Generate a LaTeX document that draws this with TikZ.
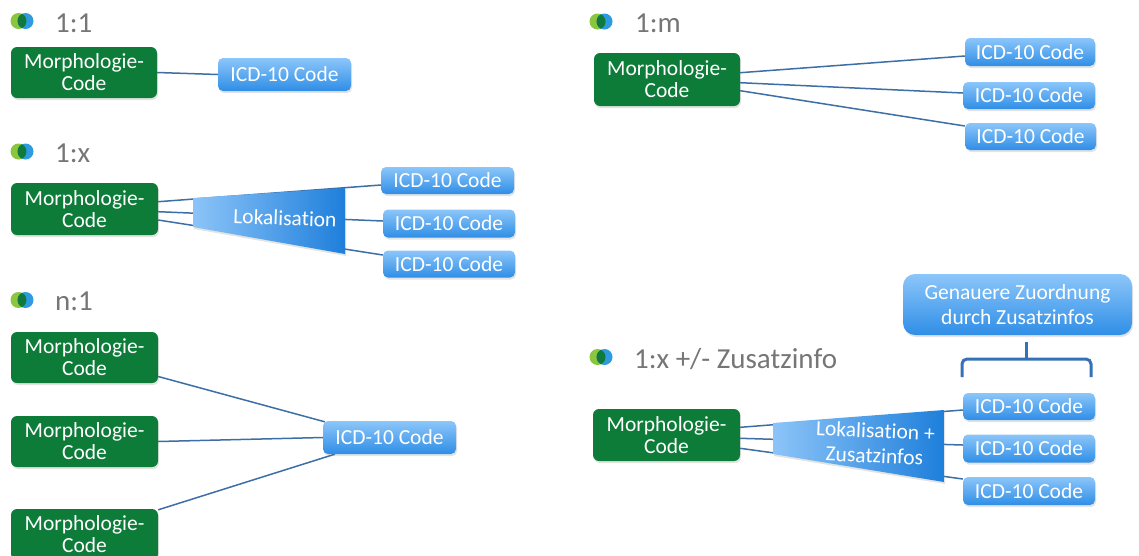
\documentclass[tikz,border=0pt]{standalone}
\usepackage{fontspec}
\setmainfont{Carlito}[Ligatures=NoCommon]
\usetikzlibrary{calc,shadows}
\definecolor{grn}{HTML}{0E7C39}
\definecolor{icdtop}{HTML}{8CC6FA}
\definecolor{icdbot}{HTML}{2F8EE6}
\definecolor{trapL}{HTML}{8CC4F8}
\definecolor{trapR}{HTML}{1E7FDB}
\definecolor{lnk}{HTML}{3D6FA6}
\definecolor{brc}{HTML}{3472B8}
\definecolor{ttl}{HTML}{767676}
\definecolor{bgreen}{HTML}{8CC63F}
\definecolor{bblue}{HTML}{2E9BE0}
\definecolor{bdark}{HTML}{0F7A3C}
\pgfdeclarelayer{bg}
\pgfsetlayers{bg,main}
\tikzset{
  shd/.style={drop shadow={shadow xshift=1pt,shadow yshift=-2pt,opacity=0.22}},
  morph/.style={fill=grn, rounded corners=6pt, text=white, align=center, inner sep=0pt,
    minimum width=147pt, minimum height=52pt, font=\fontsize{21.5}{22}\selectfont, shd},
  icd/.style={top color=icdtop, bottom color=icdbot, rounded corners=5pt, text=white,
    inner sep=0pt, minimum width=132pt, minimum height=28pt, font=\fontsize{21.5}{22}\selectfont, shd},
  link/.style={draw=lnk, line width=1.5pt},
  ttlstyle/.style={anchor=base west, text=ttl, inner sep=0pt, font=\fontsize{29}{30}\selectfont},
  trapz/.style={left color=trapL, right color=trapR, shd},
  traptext/.style={text=white, align=center, inner sep=0pt, font=\fontsize{21.5}{25}\selectfont},
  bracest/.style={draw=brc, line width=3pt},
  bul/.pic={
    \fill[bgreen] (0,0) circle (8);
    \fill[bblue] (7,0) circle (8);
    \begin{scope}
      \clip (0,0) circle (8);
      \fill[bdark] (7,0) circle (8);
    \end{scope}
  }
}
\begin{document}
\begin{tikzpicture}[x=1pt,y=-1pt]
\useasboundingbox (0,0) rectangle (1139,555);
\clip (0,0) rectangle (1139,555);
\begin{pgfonlayer}{bg}
\fill[white] (0,0) rectangle (1139,555);
\end{pgfonlayer}

% titles
\pic at (18.5,21) {bul};
\node[ttlstyle] (h1) at (55,32) {1:1};
\pic at (18.5,151.5) {bul};
\node[ttlstyle] (h2) at (55,162) {1:x};
\pic at (597.5,21.5) {bul};
\node[ttlstyle] (h3) at (635,32) {1:m};
\pic at (18.5,300) {bul};
\node[ttlstyle] (h4) at (55,310) {n:1};
\pic at (597.5,357) {bul};
\node[ttlstyle] (h5) at (634,368) {1:x +/- Zusatzinfo};

% 1:1
\node[morph, minimum width=146pt, minimum height=51pt] (g1) at (84,72.5) {Morphologie-\\Code};
\node[icd, minimum width=133pt, minimum height=33pt] (i1) at (284.5,74.5) {ICD-10 Code};

% 1:x
\node[morph] (g2) at (84.5,209) {Morphologie-\\Code};
\path[trapz] (193,198) -- (345,188) -- (345,254) -- (193,227) -- cycle;
\node[traptext, rotate=-2] (l2) at (285,218) {Lokalisation};
\node[icd, minimum width=133pt, minimum height=27pt] (i21) at (447.5,180.5) {ICD-10 Code};
\node[icd] (i22) at (449,223.5) {ICD-10 Code};
\node[icd, minimum height=27pt] (i23) at (449,264) {ICD-10 Code};

% 1:m
\node[morph, minimum width=146pt, minimum height=53pt] (g3) at (667,79.5) {Morphologie-\\Code};
\node[icd, minimum width=130pt] (i31) at (1030,52) {ICD-10 Code};
\node[icd, minimum height=27pt] (i32) at (1029,95.5) {ICD-10 Code};
\node[icd, minimum width=131pt, minimum height=27pt] (i33) at (1030.5,136.5) {ICD-10 Code};

% n:1
\node[morph, minimum height=51pt] (g41) at (84.5,357.5) {Morphologie-\\Code};
\node[morph, minimum height=51pt] (g42) at (84.5,441.5) {Morphologie-\\Code};
\node[morph, minimum height=51pt] (g43) at (84.5,534.5) {Morphologie-\\Code};
\node[icd, minimum width=133pt, minimum height=33pt] (i4) at (389.5,437.5) {ICD-10 Code};

% 1:x +/- Zusatzinfo
\node[morph] (g5) at (666.5,435) {Morphologie-\\Code};
\path[trapz] (773,423) -- (944,410) -- (944,482) -- (773,454) -- cycle;
\node[traptext, rotate=-2.5] (l5) at (875,443) {Lokalisation +\\Zusatzinfos};
\node[icd, minimum height=27pt] (i51) at (1029,406.5) {ICD-10 Code};
\node[icd] (i52) at (1029,448.5) {ICD-10 Code};
\node[icd] (i53) at (1029,491) {ICD-10 Code};
\node[icd, rounded corners=12pt, minimum width=229pt, minimum height=61pt, align=center,
  font=\fontsize{21.5}{25}\selectfont] (gz) at (1017.5,304.5) {Genauere Zuordnung\\durch Zusatzinfos};

% brace
\draw[bracest, rounded corners=5pt] (962,377) -- (962,359) -- (1091,359) -- (1091,377);
\draw[bracest] (1026,359) -- ($(gz.south)+(8.5,7)$);

% connectors
\begin{pgfonlayer}{bg}
\draw[link] (g1.east) -- (i1.west);
\draw[link] ($(g2.east)+(0,-7.3)$) -- ($(i21.west)+(0,4.5)$);
\draw[link] ($(g2.east)+(0,2.7)$) -- ($(i22.west)+(0,-2.5)$);
\draw[link] ($(g2.east)+(0,11)$) -- ($(i23.west)+(0,-9)$);
\draw[link] ($(g3.east)+(0,-6.8)$) -- ($(i31.west)+(0,4)$);
\draw[link] ($(g3.east)+(0,3.2)$) -- ($(i32.west)+(0,-2.5)$);
\draw[link] ($(g3.east)+(0,11.2)$) -- ($(i33.west)+(0,-10.5)$);
\draw[link] ($(g41.east)+(0,19)$) -- ($(i4.north west)+(2,1)$);
\draw[link] (g42.east) -- (i4.west);
\draw[link] ($(g43.north east)+(0,1)$) -- ($(i4.south west)+(12,0)$);
\draw[link] ($(g5.east)+(0,-7.7)$) -- ($(i51.west)+(0,3.5)$);
\draw[link] ($(g5.east)+(0,3.3)$) -- ($(i52.west)+(0,-3.5)$);
\draw[link] ($(g5.east)+(0,13.3)$) -- ($(i53.west)+(0,-12)$);
\end{pgfonlayer}
\end{tikzpicture}
\end{document}
